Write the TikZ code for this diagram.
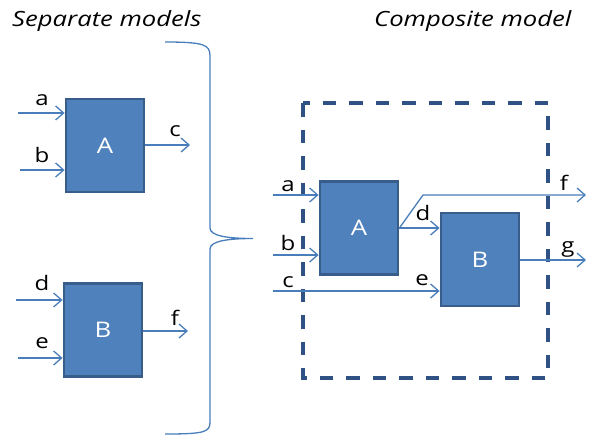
\documentclass[tikz,border=0pt]{standalone}
\usepackage{fontspec}
\setmainfont{Open Sans}
\newfontfamily\widefont[FakeStretch=1.2]{Open Sans}
\newfontfamily\headfont[FakeStretch=1.22]{Open Sans}
\usetikzlibrary{arrows.meta}
\definecolor{boxfill}{HTML}{4F81BD}
\definecolor{boxline}{HTML}{385D8A}
\definecolor{wire}{HTML}{4A7EBB}
\definecolor{frame}{HTML}{2F5183}
\tikzset{
  block/.style={draw=boxline, line width=2.8pt, fill=boxfill, minimum width=78pt,
    minimum height=93pt, inner sep=0pt, text=white, font=\widefont\fontsize{21.5}{21}\selectfont},
  arr/.style={draw=wire, line width=1.3pt, -{Straight Barb[length=8pt,width=14pt,line width=1.3pt]}},
  wirelbl/.style={font=\widefont\fontsize{20}{20}\selectfont, inner sep=0pt, anchor=base},
  title/.style={font=\headfont\fontsize{21}{21}\selectfont\itshape, inner sep=0pt, anchor=base west},
}
\begin{document}
\begin{tikzpicture}[x=1pt,y=-1pt]
\useasboundingbox (0,0) rectangle (591,439);

% titles
\node[title] (t1) at (12,27) {Separate models};
\node[title] (t2) at (374,27) {Composite model};

% separate model A
\node[block] (A1) at (105,145.5) {A};
\coordinate (ia) at (18,113);
\coordinate (ib) at (20,170);
\coordinate (oc) at (190,145);
\draw[arr] (ia) -- (ia -| A1.west);
\draw[arr] (ib) -- (ib -| A1.west);
\draw[arr] (oc -| A1.east) -- (oc);
\node[wirelbl] (la1) at (42,105) {a};
\node[wirelbl] (lb1) at (42,162) {b};
\node[wirelbl] (lc1) at (175,136) {c};

% separate model B
\node[block] (B1) at (103,330) {B};
\coordinate (id) at (16,300);
\coordinate (ie) at (18,358);
\coordinate (of) at (188,331);
\draw[arr] (id) -- (id -| B1.west);
\draw[arr] (ie) -- (ie -| B1.west);
\draw[arr] (of -| B1.east) -- (of);
\node[wirelbl] (ld1) at (42,290) {d};
\node[wirelbl] (le1) at (42,348) {e};
\node[wirelbl] (lf1) at (175,325) {f};

% brace joining the two models
\draw[wire, line width=1.3pt]
  (165,42) .. controls (205,42) and (210,45) .. (210,56)
  -- (210,228) .. controls (210,236) and (228,238.5) .. (253,238.5)
  .. controls (228,238.5) and (210,241) .. (210,249)
  -- (210,422) .. controls (210,432) and (205,434) .. (165,434);

% composite model frame
\draw[frame, line width=3.5pt, dash pattern=on 13.5pt off 13pt] (303,103) rectangle (548,378);

\node[block] (A2) at (359,228) {A};
\node[block] (B2) at (480,259.5) {B};
\coordinate (ca) at (273,195);
\coordinate (cb) at (273,255);
\coordinate (cc) at (273,291);
\coordinate (bend) at (423,195);
\coordinate (cf) at (586,195);
\coordinate (cg) at (586,260);
\draw[arr] (ca) -- (ca -| A2.west);
\draw[arr] (cb) -- (cb -| A2.west);
\draw[arr] (cc) -- (cc -| B2.west);
\draw[arr] (A2.east) -- (A2.east -| B2.west);
\draw[arr] (A2.east) -- (bend) -- (cf);
\draw[arr] (cg -| B2.east) -- (cg);
\node[wirelbl] (la2) at (288,191) {a};
\node[wirelbl] (lb2) at (288,250) {b};
\node[wirelbl] (lc2) at (288,287) {c};
\node[wirelbl] (ld2) at (423,220) {d};
\node[wirelbl] (le2) at (422,285) {e};
\node[wirelbl] (lf2) at (564,190) {f};
\node[wirelbl] (lg2) at (568,252) {g};
\end{tikzpicture}
\end{document}
